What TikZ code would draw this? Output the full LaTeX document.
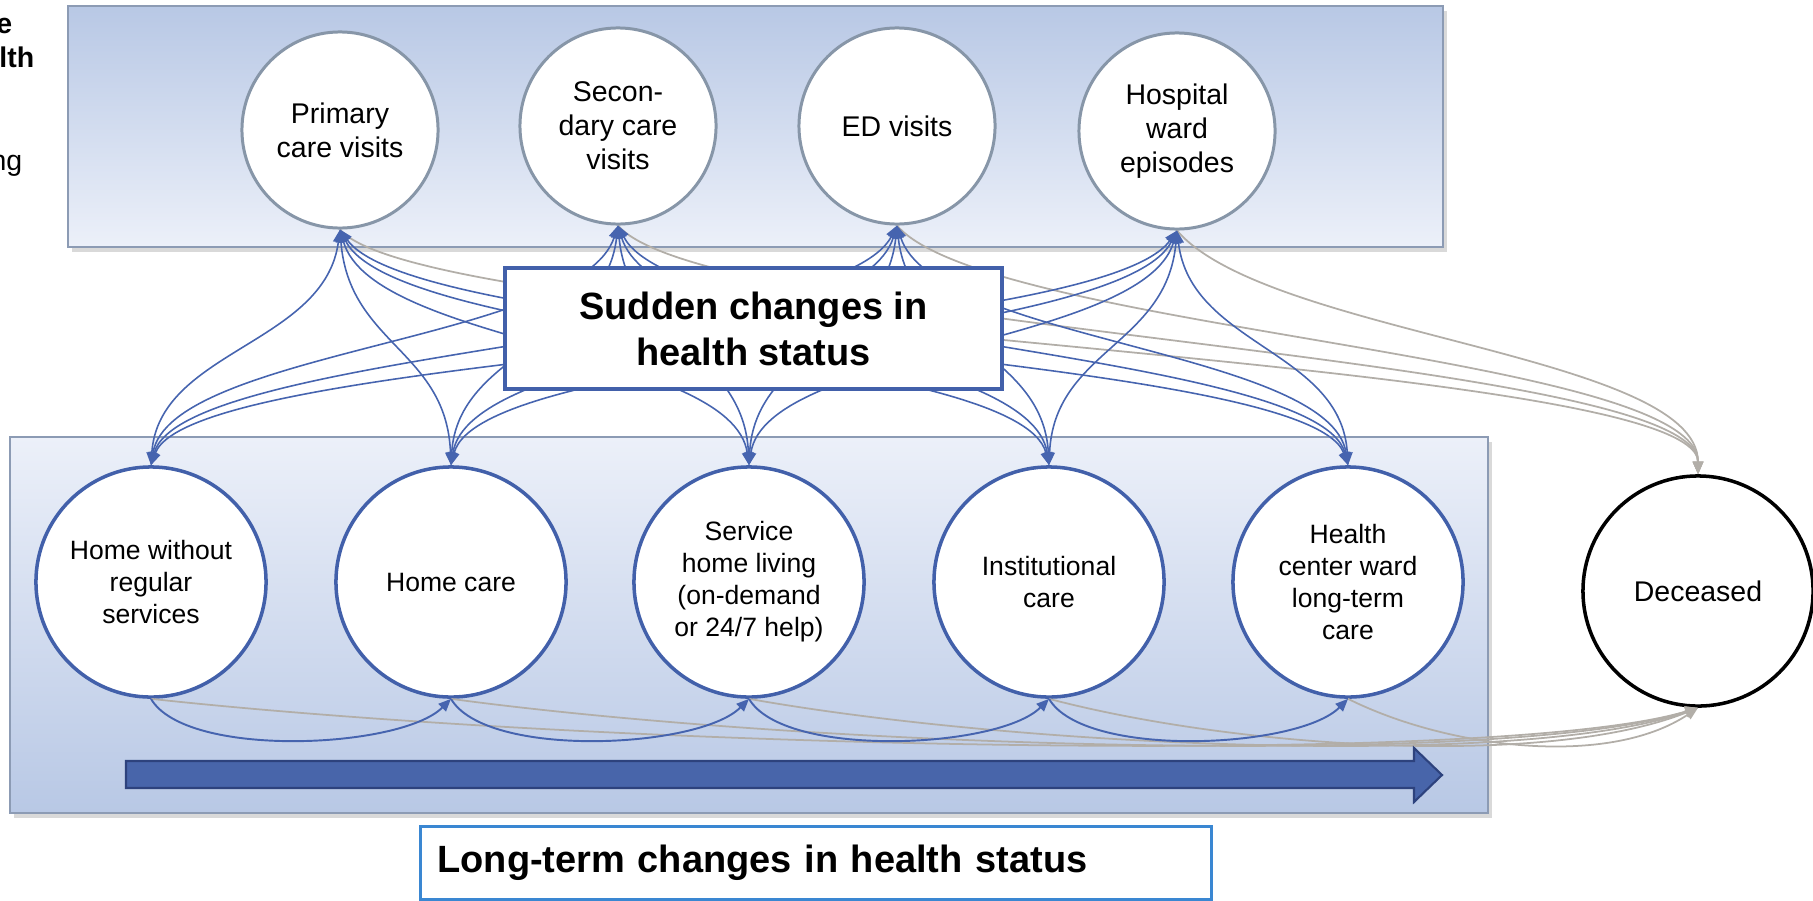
\documentclass[tikz,border=0pt]{standalone}
\usepackage{fontspec}
\setmainfont{Liberation Sans}
\usetikzlibrary{arrows.meta, shadows}
\definecolor{linkblue}{RGB}{70,100,175}
\definecolor{ringblue}{RGB}{66,96,170}
\definecolor{ringgray}{RGB}{135,150,168}
\definecolor{deadgray}{RGB}{178,174,168}
\definecolor{panelline}{RGB}{140,155,180}
\definecolor{paneldark}{RGB}{184,200,229}
\definecolor{panellight}{RGB}{236,240,249}
\definecolor{arrowfill}{RGB}{72,101,170}
\definecolor{arrowedge}{RGB}{45,66,125}
\definecolor{ltblue}{RGB}{58,135,210}
\newcommand{\circtop}{\fontsize{8.1}{9.7}\selectfont}
\newcommand{\circbot}{\fontsize{7.55}{9.1}\selectfont}
\newcommand{\bigtxt}{\fontsize{10.8}{13.1}\selectfont\bfseries}

\begin{document}
\begin{tikzpicture}[x=0.01cm, y=-0.01cm,
      panel/.style={draw=panelline, line width=0.6pt,
        drop shadow={shadow xshift=1pt, shadow yshift=-1.3pt, opacity=0.3}},
      topstate/.style={circle, draw=ringgray, line width=0.85pt, fill=white,
        minimum size=1.96cm, inner sep=0pt, align=center, font=\circtop},
      botstate/.style={circle, draw=ringblue, line width=1pt, fill=white,
        minimum size=2.3cm, inner sep=0pt, align=center, font=\circbot},
      deadstate/.style={botstate, draw=black, font=\circtop},
      flow/.style={draw=linkblue, line width=0.45pt,
        {Triangle[length=3.6pt,width=3pt]}-{Triangle[length=3.6pt,width=3pt]}},
      stepflow/.style={draw=linkblue, line width=0.55pt,
        -{Triangle[length=3.6pt,width=3pt]}},
      deadflow/.style={draw=deadgray, line width=0.5pt,
        -{Triangle[length=3.6pt,width=3pt]}},
      suddenbox/.style={draw=ringblue, line width=1pt, fill=white,
        minimum width=4.97cm, minimum height=1.21cm, align=center, font=\bigtxt},
      ltbox/.style={draw=ltblue, line width=0.8pt, fill=white, text width=7.57cm,
        inner xsep=0.17cm, minimum height=0.73cm, align=left, font=\bigtxt},
      frag/.style={font=\circtop, anchor=base east, inner sep=0pt}]
    \useasboundingbox (0,0) rectangle (1813,900);

    % --- panels ---
    \draw[panel, top color=paneldark, bottom color=panellight] (68,6) rectangle (1443,247);
    \draw[panel, top color=panellight, bottom color=paneldark] (10,437) rectangle (1488,813);

    % --- cut-off side label ---
    \node[frag, font=\circtop\bfseries] (fraga) at (13,33) {e};
    \node[frag, font=\circtop\bfseries] (fragb) at (35,67) {lth};
    \node[frag] (fragc) at (23,170) {ng};

    % --- sudden-change states (top) ---
    \node[topstate] (prim) at (340,130) {Primary\\care visits};
    \node[topstate] (sec)  at (618,126) {Secon-\\dary care\\visits};
    \node[topstate] (ed)   at (897,126) {ED visits};
    \node[topstate] (hosp) at (1177,131) {Hospital\\ward\\episodes};

    % --- long-term states (bottom) ---
    \node[botstate] (hw)  at (151,582)  {Home without\\regular\\services};
    \node[botstate] (hc)  at (451,582)  {Home care};
    \node[botstate] (sh)  at (749,582)  {Service\\home living\\(on-demand\\or 24/7 help)};
    \node[botstate] (ic)  at (1049,582) {Institutional\\care};
    \node[botstate] (hcw) at (1348,582) {Health\\center ward\\long-term\\care};
    \node[deadstate] (dec) at (1698,591) {Deceased};

    % --- transitions to death ---
    \foreach \t in {prim,sec,ed,hosp}
      \draw[deadflow] (\t.south) .. controls +(90,105) and +(0,-120) .. (dec.north);
    \foreach \b/\u/\v in {hw/460/200, hc/370/190, sh/280/170, ic/190/150, hcw/100/90}
      \draw[deadflow] (\b.south) .. controls +(\u,50) and +(-\v,60) .. (dec.south);

    % --- sudden transitions, top <-> bottom ---
    \foreach \t/\tx in {prim/340,sec/618,ed/897,hosp/1177}
      \foreach \b/\bx in {hw/151,hc/451,sh/749,ic/1049,hcw/1348}
        \draw[flow] (\t.south) .. controls +({0.08*(\bx-\tx)},115)
                    and +({-0.04*(\bx-\tx)},-115) .. (\b.north);

    % --- long-term steps ---
    \foreach \a/\b in {hw/hc, hc/sh, sh/ic, ic/hcw}
      \draw[stepflow] (\a.south) .. controls +(35,60) and +(-50,50) .. (\b.south);

    % --- labels ---
    \node[suddenbox] (sudden) at (753.5,328.5) {Sudden changes in\\health status};
    \node[ltbox, anchor=north west] (longterm) at (419,825)
          {Long-term changes in health status};

    % big time arrow
    \draw[fill=arrowfill, draw=arrowedge, line width=0.6pt]
          (126,761) -- (1414,761) -- (1414,748) -- (1442,775)
          -- (1414,802) -- (1414,788) -- (126,788) -- cycle;
  \end{tikzpicture}
\end{document}
